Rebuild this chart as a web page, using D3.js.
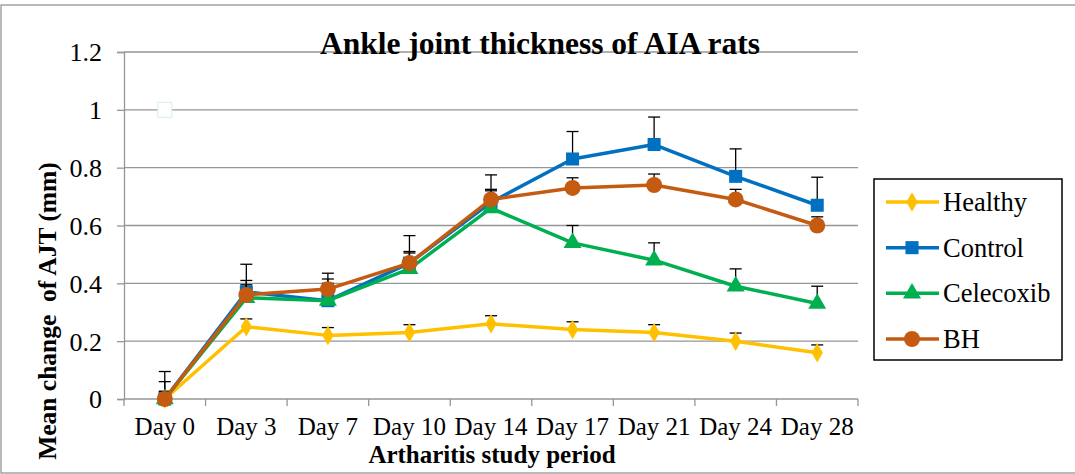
<!DOCTYPE html>
<html><head><meta charset="utf-8">
<script src="https://cdn.jsdelivr.net/npm/d3@7"></script>
<style>
html,body{margin:0;padding:0;background:#fff;}
svg{display:block;font-family:"Liberation Serif","Times New Roman",serif;}
</style></head>
<body>
<svg id="chart" width="1075" height="474"></svg>
<script>
const categories = ["Day 0","Day 3","Day 7","Day 10","Day 14","Day 17","Day 21","Day 24","Day 28"];
const healthy    = [0, 0.25, 0.22, 0.23, 0.26, 0.24, 0.23, 0.20, 0.16];
const healthyErr = [0.027, 0.027, 0.027, 0.027, 0.028, 0.027, 0.027, 0.028, 0.027];
const control    = [0, 0.37, 0.34, 0.47, 0.68, 0.83, 0.88, 0.77, 0.67];
const controlErr = [0.095, 0.096, 0.095, 0.095, 0.095, 0.095, 0.095, 0.095, 0.097];
const celecoxib  = [0, 0.35, 0.34, 0.45, 0.66, 0.54, 0.48, 0.39, 0.33];
const celecoxibErr=[0.06, 0.06, 0.06, 0.06, 0.06, 0.06, 0.06, 0.06, 0.06];
const bh         = [0, 0.36, 0.38, 0.47, 0.69, 0.73, 0.74, 0.69, 0.60];
const bhErr      = [0.025, 0.035, 0.035, 0.035, 0.035, 0.035, 0.038, 0.035, 0.03];
const strayCategory = ["Day 0"];
const strayValue = [1];
const yTicks = [0, 0.2, 0.4, 0.6, 0.8, 1, 1.2];
const seriesNames = ["Healthy","Control","Celecoxib","BH"];

const series = [
  {name:seriesNames[0], values:healthy, err:healthyErr, color:"#FFC000", sym:"diamond"},
  {name:seriesNames[1], values:control, err:controlErr, color:"#0070C0", sym:"square"},
  {name:seriesNames[2], values:celecoxib, err:celecoxibErr, color:"#00B050", sym:"triangle"},
  {name:seriesNames[3], values:bh, err:bhErr, color:"#C55A11", sym:"circle"}
];

const svg = d3.select("#chart");
// outer border
svg.append("rect").attr("x",1).attr("y",5).attr("width",1080).attr("height",468)
  .attr("fill","none").attr("stroke","#8c8c8c").attr("stroke-width",1.2);

const x = d3.scaleBand().domain(categories).range([124, 858]).padding(0);
const cx = d => x(d) + x.bandwidth()/2;
const y = d3.scaleLinear().domain([0,1.2]).range([399,52]);

// gridlines
svg.append("g").selectAll("line").data(yTicks.filter(t=>t>0)).join("line")
  .attr("x1",124).attr("x2",858).attr("y1",d=>y(d)).attr("y2",d=>y(d))
  .attr("stroke","#969696").attr("stroke-width",1.3);

// y axis
const yAxis = svg.append("g").attr("transform","translate(124,0)")
  .call(d3.axisLeft(y).tickValues(yTicks).tickSize(7).tickPadding(15).tickFormat(d=>String(d)));
yAxis.select(".domain").attr("stroke","#969696").attr("stroke-width",1.3);
yAxis.selectAll(".tick line").attr("stroke","#969696").attr("stroke-width",1.3);
yAxis.selectAll("text").attr("font-size",26).attr("font-family","Liberation Serif").attr("fill","#000")
  .attr("x",-22).attr("dy","0.34em");

// x axis
const xAxis = svg.append("g").attr("transform","translate(0,399)")
  .call(d3.axisBottom(x).tickSize(0).tickPadding(20));
xAxis.select(".domain").attr("stroke","#969696").attr("stroke-width",1.3).attr("d","M124,0H858");
xAxis.selectAll("text").attr("font-size",25).attr("font-family","Liberation Serif").attr("fill","#000")
  .attr("y",36).attr("dy",0);
// boundary ticks
const bounds = categories.map(c=>x(c)).concat([x(categories[categories.length-1])+x.bandwidth()]);
svg.append("g").selectAll("line").data(bounds).join("line")
  .attr("x1",d=>d).attr("x2",d=>d).attr("y1",399).attr("y2",406)
  .attr("stroke","#969696").attr("stroke-width",1.3);

const symMap = {diamond:d3.symbolDiamond, square:d3.symbolSquare, triangle:d3.symbolTriangle, circle:d3.symbolCircle};
const symSize = {diamond:110, square:170, triangle:140, circle:200};

const line = d3.line().x((d,i)=>cx(categories[i])).y(d=>y(d));

series.forEach(s=>{
  const g = svg.append("g");
  // error bars (upper only)
  const eb = g.append("g").attr("stroke","#000").attr("stroke-width",1.3);
  s.values.forEach((v,i)=>{
    const px = cx(categories[i]);
    eb.append("line").attr("x1",px).attr("x2",px).attr("y1",y(v)).attr("y2",y(v+s.err[i]));
    eb.append("line").attr("x1",px-6).attr("x2",px+6).attr("y1",y(v+s.err[i])).attr("y2",y(v+s.err[i]));
  });
  g.append("path").datum(s.values).attr("d",line).attr("fill","none")
    .attr("stroke",s.color).attr("stroke-width",3.5).attr("stroke-linejoin","round");
  g.selectAll("path.m").data(s.values).join("path").attr("class","m")
    .attr("transform",(d,i)=>`translate(${cx(categories[i])},${y(d)})`)
    .attr("d",d3.symbol().type(symMap[s.sym]).size(symSize[s.sym]))
    .attr("fill",s.color);
});

// stray marker
svg.append("g").selectAll("rect").data(strayValue).join("rect")
  .attr("x",(d,i)=>cx(strayCategory[i])-7).attr("y",d=>y(d)-7.5)
  .attr("width",14).attr("height",15).attr("fill","#fff").attr("stroke","#d6f0e4").attr("stroke-width",1);

// title
svg.append("text").attr("x",540).attr("y",54).attr("text-anchor","middle")
  .attr("font-size",31.5).attr("font-weight","bold").text("Ankle joint thickness of AIA rats");
// axis titles
svg.append("text").attr("x",492).attr("y",463).attr("text-anchor","middle")
  .attr("font-size",25).attr("font-weight","bold").text("Artharitis study period");
svg.append("text").attr("transform","translate(56,311) rotate(-90)").attr("text-anchor","middle")
  .attr("font-size",25.5).attr("font-weight","bold").attr("xml:space","preserve")
  .style("white-space","pre").text("Mean change  of AJT (mm)");

// legend
const lg = svg.append("g");
lg.append("rect").attr("x",874).attr("y",179).attr("width",188).attr("height",181)
  .attr("fill","#fff").attr("stroke","#000").attr("stroke-width",1.5);
const ly = d3.scalePoint().domain(seriesNames).range([202,339]);
series.forEach(s=>{
  const yy = ly(s.name);
  lg.append("line").attr("x1",886).attr("x2",939).attr("y1",yy).attr("y2",yy)
    .attr("stroke",s.color).attr("stroke-width",3.5);
  lg.append("path").attr("transform",`translate(912,${yy})`)
    .attr("d",d3.symbol().type(symMap[s.sym]).size(symSize[s.sym])).attr("fill",s.color);
  lg.append("text").attr("x",943).attr("y",yy).attr("dy","0.34em").attr("font-size",26.5).text(s.name);
});
</script>
</body></html>
